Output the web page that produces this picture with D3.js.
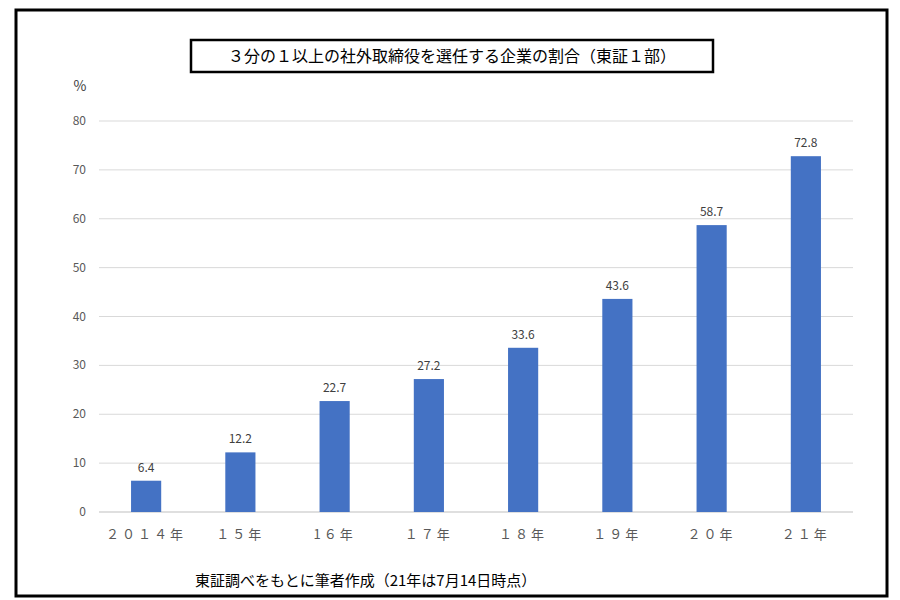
<!DOCTYPE html>
<html><head><meta charset="utf-8">
<script src="https://cdn.jsdelivr.net/npm/d3@7"></script>
<style>body{margin:0;background:#fff}</style></head>
<body><svg id="c" width="900" height="600"></svg>
<script>
const categories=["２０１４年","１５年","1６年","１７年","１８年","１９年","２０年","２１年"];
const values=[6.4,12.2,22.7,27.2,33.6,43.6,58.7,72.8];
const yTicks=[0,10,20,30,40,50,60,70,80];
const title="３分の１以上の社外取締役を選任する企業の割合（東証１部）";
const note="東証調べをもとに筆者作成（21年は7月14日時点）";
const font="'Noto Sans CJK JP','Noto Sans',sans-serif";
const svg=d3.select("#c");
svg.append("rect").attr("x",16).attr("y",10).attr("width",871).attr("height",586).attr("fill","#fff").attr("stroke","#000").attr("stroke-width",3);
svg.append("rect").attr("x",191).attr("y",40).attr("width",522).attr("height",32).attr("fill","none").attr("stroke","#000").attr("stroke-width",2.5);
svg.append("text").attr("x",452).attr("y",62).attr("text-anchor","middle").attr("font-family",font).attr("font-size",16).text(title);
const x=d3.scaleBand().domain(categories).range([99,853]).paddingInner(0.68).paddingOuter(0.34);
const y=d3.scaleLinear().domain([0,80]).range([512,121]);
const g=svg.append("g");
g.selectAll("line.g").data(yTicks).join("line").attr("x1",99).attr("x2",853).attr("y1",d=>y(d)).attr("y2",d=>y(d)).attr("stroke",d=>d===0?"#bfbfbf":"#d9d9d9").attr("stroke-width",1);
g.selectAll("text.y").data(yTicks).join("text").attr("x",86).attr("y",d=>y(d)+4).attr("text-anchor","end").attr("font-family",font).attr("font-size",12).attr("fill","#595959").text(d=>d);
svg.append("text").attr("x",80).attr("y",91).attr("text-anchor","middle").attr("font-family",font).attr("font-size",14).attr("fill","#404040").text("%");
g.selectAll("rect.b").data(values).join("rect").attr("x",(d,i)=>x(categories[i])).attr("width",x.bandwidth()).attr("y",d=>y(d)).attr("height",d=>y(0)-y(d)).attr("fill","#4472C4");
g.selectAll("text.v").data(values).join("text").attr("x",(d,i)=>x(categories[i])+x.bandwidth()/2).attr("y",d=>y(d)-9).attr("text-anchor","middle").attr("font-family",font).attr("font-size",12).attr("fill","#404040").text(d=>d.toFixed(1));
g.selectAll("text.x").data(categories).join("text").attr("x",d=>x(d)+x.bandwidth()/2).attr("y",539).attr("text-anchor","middle").attr("font-family",font).attr("font-size",13).attr("fill","#595959").attr("letter-spacing",3).text(d=>d);
svg.append("text").attr("x",195).attr("y",586).attr("font-family",font).attr("font-size",15).text(note);
</script></body></html>
